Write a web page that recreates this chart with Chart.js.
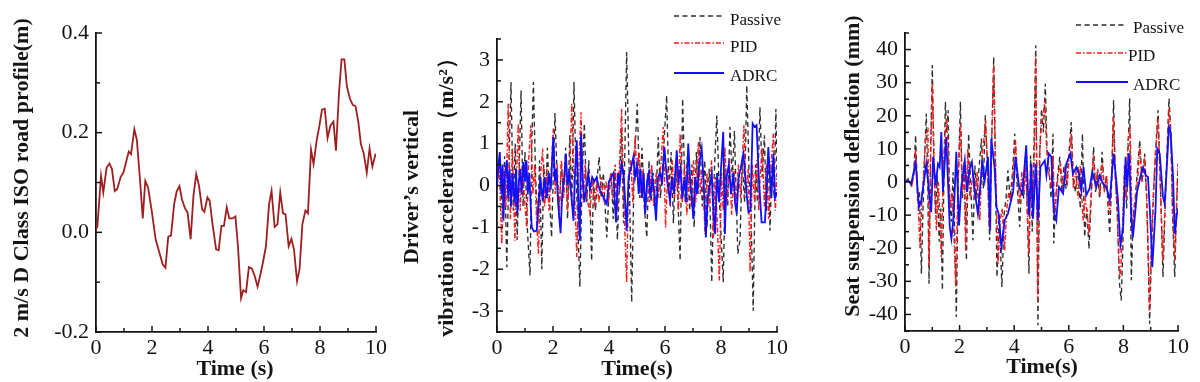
<!DOCTYPE html>
<html><head><meta charset="utf-8">
<script src="https://cdn.jsdelivr.net/npm/chart.js@4.4.0/dist/chart.umd.min.js"></script>
<style>
html,body{margin:0;padding:0;background:#fff;}
#wrap{position:relative;width:1200px;height:382px;overflow:hidden;background:#fff;}
canvas{position:absolute;top:0;}
</style></head><body>
<div id="wrap">
<canvas id="c1" width="400" height="382" style="left:0px"></canvas>
<canvas id="c2" width="400" height="382" style="left:400px"></canvas>
<canvas id="c3" width="400" height="382" style="left:800px"></canvas>
</div>
<script>
// ---------- tick labels ----------
const timeTicks = [0, 2, 4, 6, 8, 10];
const roadTicks = [-0.2, 0.0, 0.2, 0.4];
const accelTicks = [-3, -2, -1, 0, 1, 2, 3];
const seatTicks = [-40, -30, -20, -10, 0, 10, 20, 30, 40];

// ---------- series names ----------
const seriesNames = ['Passive', 'PID', 'ADRC'];

// ---------- panel 1: road profile [time, value] ----------
const roadProfile = [[0,0.006],[0.05,0.012],[0.18,0.113],[0.26,0.08],[0.38,0.13],[0.48,0.138],[0.57,0.127],[0.67,0.083],[0.76,0.087],[0.88,0.111],[0.98,0.12],[1.07,0.14],[1.17,0.162],[1.25,0.157],[1.37,0.207],[1.46,0.185],[1.57,0.107],[1.67,0.028],[1.76,0.103],[1.86,0.09],[1.99,0.043],[2.13,-0.014],[2.25,-0.038],[2.38,-0.064],[2.48,-0.071],[2.58,-0.009],[2.68,-0.006],[2.79,0.056],[2.88,0.082],[2.98,0.093],[3.07,0.066],[3.18,0.048],[3.27,0.04],[3.38,-0.014],[3.48,0.073],[3.58,0.117],[3.68,0.093],[3.79,0.046],[3.87,0.041],[3.98,0.07],[4.06,0.063],[4.17,0.013],[4.29,-0.034],[4.38,-0.036],[4.48,0.013],[4.57,0.013],[4.67,0.05],[4.76,0.028],[4.88,0.028],[4.98,0.032],[5.07,-0.028],[5.18,-0.132],[5.26,-0.116],[5.36,-0.12],[5.46,-0.07],[5.57,-0.073],[5.67,-0.088],[5.77,-0.109],[5.87,-0.085],[5.96,-0.061],[6.07,-0.028],[6.18,0.056],[6.27,0.083],[6.38,0.011],[6.48,0.016],[6.58,0.08],[6.68,0.038],[6.77,0.036],[6.88,-0.028],[6.98,-0.013],[7.07,-0.034],[7.18,-0.098],[7.27,-0.074],[7.37,0.016],[7.48,0.044],[7.57,0.038],[7.68,0.166],[7.77,0.137],[7.88,0.184],[7.98,0.214],[8.07,0.246],[8.17,0.248],[8.27,0.189],[8.37,0.214],[8.48,0.222],[8.57,0.164],[8.68,0.281],[8.77,0.347],[8.87,0.347],[8.96,0.293],[9.07,0.268],[9.17,0.256],[9.27,0.253],[9.37,0.221],[9.46,0.177],[9.56,0.159],[9.67,0.12],[9.77,0.168],[9.87,0.132],[9.99,0.158]];

// ---------- panel 2: driver's vertical acceleration [time, m/s^2] ----------
const accelPassive = [[0,0],[0.1,0.6],[0.2,-0.8],[0.27,0.7],[0.35,-1.95],[0.42,0.3],[0.5,2.47],[0.58,-0.6],[0.65,1.0],[0.72,-1.3],[0.79,0.4],[0.86,2.27],[0.93,-0.5],[1.0,0.8],[1.08,-1.0],[1.18,-2.15],[1.24,0.9],[1.3,2.47],[1.38,0.2],[1.45,-0.9],[1.52,0.6],[1.6,-2.0],[1.67,0.5],[1.74,-0.3],[1.8,0.9],[1.88,-0.4],[1.95,-1.24],[2.07,1.73],[2.15,0.2],[2.22,-0.6],[2.3,0.5],[2.38,-0.2],[2.45,0.9],[2.52,-0.8],[2.6,1.2],[2.67,-0.5],[2.75,2.47],[2.82,0.3],[2.89,-1.0],[2.96,-2.42],[3.04,0.2],[3.12,1.48],[3.2,-0.4],[3.28,0.6],[3.38,-1.8],[3.45,0.1],[3.52,-0.6],[3.58,0.2],[3.65,0.68],[3.72,-0.3],[3.8,0.3],[3.92,-1.24],[4.0,-0.2],[4.08,0.3],[4.15,-0.8],[4.22,0.4],[4.3,-1.3],[4.38,0.2],[4.45,1.3],[4.52,-0.9],[4.63,3.19],[4.72,0.3],[4.81,-2.79],[4.9,0.5],[5.01,1.95],[5.1,-0.3],[5.18,0.9],[5.26,-0.5],[5.35,-1.24],[5.43,0.6],[5.5,-0.4],[5.58,0.3],[5.66,-0.7],[5.76,1.16],[5.84,-0.3],[5.92,0.5],[6.06,2.15],[6.14,-0.2],[6.22,0.8],[6.3,-0.9],[6.38,0.6],[6.46,-0.3],[6.54,-1.8],[6.63,2.07],[6.72,-0.4],[6.8,0.7],[6.88,-0.6],[6.96,0.5],[7.04,-1.0],[7.12,0.8],[7.18,-0.2],[7.25,1.16],[7.33,-0.5],[7.42,0.6],[7.5,-1.0],[7.58,0.4],[7.67,-2.31],[7.76,0.3],[7.85,1.67],[7.96,-0.6],[8.08,-2.31],[8.16,0.4],[8.24,-0.5],[8.32,1.4],[8.4,0.2],[8.48,1.3],[8.6,-1.63],[8.68,-1.3],[8.76,0.6],[8.84,-0.4],[8.92,2.39],[9.0,0.4],[9.08,-0.9],[9.15,-2.99],[9.23,0.5],[9.3,-0.4],[9.39,1.87],[9.47,0.2],[9.55,1.2],[9.62,-0.6],[9.69,0.7],[9.75,-1.08],[9.82,0.5],[9.9,-0.3],[9.96,1.83],[10.0,0.2]];
const accelPID = [[0,0],[0.08,0.5],[0.17,-1.4],[0.25,0.4],[0.32,-0.5],[0.4,1.95],[0.48,-0.8],[0.55,0.9],[0.64,-1.32],[0.7,0.3],[0.76,1.48],[0.83,-0.6],[0.9,0.5],[0.98,-0.3],[1.06,-1.0],[1.13,0.6],[1.21,1.44],[1.28,-0.2],[1.35,0.5],[1.41,-0.8],[1.48,-1.63],[1.55,0.2],[1.63,0.88],[1.7,-0.5],[1.78,0.4],[1.86,-0.6],[1.93,0.3],[2.01,1.36],[2.08,-0.2],[2.15,0.5],[2.22,-0.8],[2.3,0.6],[2.38,-0.3],[2.45,0.7],[2.52,-0.6],[2.6,0.4],[2.67,1.95],[2.75,0.2],[2.85,-1.71],[2.92,0.4],[3.0,1.75],[3.08,-0.4],[3.15,0.5],[3.22,-0.3],[3.32,-0.68],[3.4,0.2],[3.48,-0.5],[3.56,0.1],[3.64,-0.4],[3.72,0.2],[3.8,-0.3],[3.9,0.1],[3.98,-0.4],[4.06,0.3],[4.14,-0.3],[4.22,0.5],[4.3,-0.6],[4.38,0.6],[4.45,1.83],[4.52,-0.2],[4.63,-2.31],[4.7,0.2],[4.78,0.6],[4.85,-0.4],[4.93,1.16],[5.0,0.2],[5.08,0.8],[5.15,-0.3],[5.22,0.4],[5.3,-0.7],[5.38,0.3],[5.45,-0.4],[5.52,0.5],[5.6,-0.5],[5.68,0.3],[5.76,-0.3],[5.85,0.5],[5.94,1.4],[6.02,-1.0],[6.1,0.4],[6.18,-0.5],[6.26,0.6],[6.34,-0.3],[6.42,0.5],[6.48,-0.6],[6.54,1.24],[6.62,-0.4],[6.7,0.5],[6.78,-0.7],[6.86,0.3],[6.94,-0.5],[7.02,0.6],[7.1,-0.4],[7.19,1.04],[7.26,-0.2],[7.34,0.4],[7.43,-1.16],[7.5,0.3],[7.58,-0.5],[7.66,0.6],[7.73,-1.24],[7.8,0.2],[7.86,-0.8],[7.94,-2.27],[8.02,0.3],[8.08,-0.6],[8.14,0.92],[8.22,-0.4],[8.3,0.6],[8.38,-0.7],[8.46,0.4],[8.54,-0.6],[8.62,0.5],[8.7,-0.3],[8.76,0.6],[8.82,1.44],[8.9,-0.3],[8.97,0.4],[9.04,-2.07],[9.12,0.5],[9.2,-0.4],[9.28,0.6],[9.35,-0.6],[9.39,0.12],[9.47,0.9],[9.55,-0.5],[9.62,0.5],[9.7,-0.8],[9.78,0.4],[9.87,1.24],[9.94,-0.6],[10,0.3]];
const accelADRC = [[0,0],[0.05,0.5],[0.1,0.8],[0.16,-0.2],[0.2,0.5],[0.23,-0.84],[0.28,0.2],[0.35,0.6],[0.4,-0.3],[0.45,0.4],[0.5,-0.5],[0.55,0.3],[0.6,-0.2],[0.64,-0.36],[0.68,0.4],[0.73,-0.68],[0.78,0.1],[0.83,0.4],[0.88,-0.2],[0.94,0.56],[1.0,0.1],[1.05,0.6],[1.1,-0.2],[1.15,0.3],[1.24,-1.0],[1.32,-1.1],[1.42,-1.08],[1.48,-0.5],[1.55,0.2],[1.63,-0.36],[1.7,0.2],[1.78,-0.3],[1.85,0.3],[1.92,-0.1],[2.01,1.16],[2.07,0.1],[2.12,0.4],[2.18,-0.4],[2.27,-1.14],[2.33,-0.2],[2.4,0.2],[2.46,0.76],[2.52,0.0],[2.58,0.3],[2.65,-0.2],[2.73,-0.84],[2.78,0.2],[2.85,1.08],[2.9,-0.3],[2.96,-1.32],[3.0,1.24],[3.06,0.2],[3.12,-0.4],[3.2,0.0],[3.26,0.3],[3.32,-0.1],[3.4,0.2],[3.48,0.1],[3.56,0.2],[3.62,0.0],[3.68,-0.12],[3.75,-0.2],[3.82,-0.3],[3.92,-0.44],[4.0,0.1],[4.08,0.2],[4.16,0.3],[4.2,-0.3],[4.25,-0.88],[4.32,0.3],[4.38,0.0],[4.45,0.52],[4.52,0.3],[4.58,-0.4],[4.63,-1.08],[4.7,0.2],[4.78,0.4],[4.87,0.68],[4.93,0.2],[5.0,0.5],[5.06,-0.2],[5.12,0.4],[5.18,-0.3],[5.24,0.3],[5.29,-0.68],[5.36,0.1],[5.42,0.3],[5.48,-0.3],[5.55,0.2],[5.62,-0.2],[5.68,-0.84],[5.75,0.2],[5.82,0.3],[5.9,0.1],[5.98,0.92],[6.05,0.3],[6.12,-0.1],[6.18,-0.36],[6.25,0.2],[6.32,-0.2],[6.42,0.84],[6.48,0.1],[6.55,0.4],[6.62,-0.3],[6.7,0.2],[6.76,-0.4],[6.83,1.0],[6.9,0.1],[6.96,-0.3],[7.01,-0.8],[7.08,0.2],[7.15,-0.2],[7.22,0.5],[7.31,0.88],[7.38,0.1],[7.46,-1.24],[7.52,-0.3],[7.6,0.0],[7.67,0.28],[7.72,-0.5],[7.79,-1.16],[7.86,0.3],[7.93,-0.4],[8.0,0.4],[8.08,1.28],[8.14,-1.16],[8.2,0.2],[8.28,0.5],[8.36,-0.2],[8.44,0.3],[8.5,-0.4],[8.56,-0.68],[8.63,0.2],[8.7,0.4],[8.8,0.76],[8.88,0.1],[8.93,-0.3],[8.98,-0.64],[9.05,-0.6],[9.13,1.48],[9.2,1.4],[9.27,1.44],[9.35,0.2],[9.45,-0.88],[9.57,-0.88],[9.62,-0.2],[9.69,0.92],[9.75,0.2],[9.8,-0.3],[9.87,0.76],[9.93,-0.3],[10,-0.16]];

// ---------- panel 3: seat suspension deflection [time, mm] ----------
const seatPassive = [[0,0],[0.12,1],[0.25,-1.5],[0.32,3],[0.39,14.1],[0.46,-5],[0.53,-3],[0.6,-27.7],[0.67,-5],[0.72,8],[0.78,20.7],[0.83,2],[0.88,-30.7],[0.94,10],[1.0,35.3],[1.06,5],[1.12,-10],[1.18,2],[1.25,-18],[1.31,-8],[1.37,-32.7],[1.43,5],[1.48,24.2],[1.53,15],[1.58,21.7],[1.63,-5],[1.7,-12],[1.76,3],[1.82,-15],[1.88,-40.8],[1.95,0],[2.03,24.2],[2.1,-5],[2.17,6],[2.25,-23.7],[2.33,14.6],[2.4,0],[2.49,-17.6],[2.56,5],[2.63,-5],[2.7,3],[2.8,13.1],[2.87,-2],[2.94,20.2],[3.02,5],[3.1,-17.6],[3.17,10],[3.25,37.8],[3.31,5],[3.37,-28.7],[3.45,-10],[3.55,-31.7],[3.63,-10],[3.7,-5],[3.77,3.5],[3.85,-5],[3.93,2],[4.02,14.6],[4.1,0],[4.2,-13.6],[4.28,0],[4.35,-5],[4.42,8],[4.48,-10],[4.54,-27.7],[4.6,8],[4.66,-15],[4.72,10],[4.79,41.3],[4.87,-43.3],[4.94,10],[5.0,22],[5.07,15],[5.14,29.7],[5.2,10],[5.27,5],[5.35,-5],[5.42,14.6],[5.45,-18.6],[5.52,-5],[5.6,3],[5.67,7.6],[5.74,-3],[5.82,5],[5.9,-2],[6.0,8],[6.09,18.1],[6.17,0],[6.25,-3],[6.33,5],[6.42,-8],[6.5,14.6],[6.58,-16.6],[6.66,-8],[6.74,-20.2],[6.82,-5],[6.91,10.6],[6.98,-3],[7.05,3],[7.13,-5],[7.22,9.1],[7.3,-3],[7.38,2],[7.44,-8],[7.5,-15.6],[7.57,0],[7.64,24.7],[7.7,3],[7.78,-10],[7.85,-30],[7.92,-35.8],[7.98,-20],[8.05,5],[8.12,-8],[8.18,12],[8.23,25.2],[8.29,-29.7],[8.36,-10],[8.43,-5],[8.5,2],[8.6,12.6],[8.68,0],[8.78,8.6],[8.85,-5],[8.9,-20],[8.96,-42.8],[9.03,-20],[9.1,-5],[9.17,8],[9.27,21.7],[9.35,0],[9.45,-28.7],[9.52,-10],[9.6,10],[9.67,25.2],[9.74,15],[9.8,-10],[9.88,-28.7],[9.94,-10],[10,5.5]];
const seatPID = [[0,0],[0.12,0.8],[0.25,-1],[0.32,2],[0.39,10],[0.46,-3],[0.55,-20],[0.62,-5],[0.7,5],[0.76,14],[0.84,15.6],[0.88,-25.2],[0.94,8],[1.0,29.7],[1.06,8],[1.15,-14.6],[1.22,0],[1.28,-10],[1.33,-22.7],[1.4,3],[1.47,15],[1.54,19.1],[1.6,5],[1.66,-8],[1.72,-3],[1.79,-15],[1.86,-31.7],[1.94,0],[2.03,17.6],[2.1,-3],[2.16,5],[2.22,-20.7],[2.3,10],[2.38,-5],[2.49,2.5],[2.56,-5],[2.64,3],[2.74,-11.6],[2.82,8],[2.88,12],[2.95,18.6],[3.02,5],[3.08,-13.6],[3.16,8],[3.25,35.3],[3.33,0],[3.41,-24.7],[3.48,-12],[3.56,-8],[3.65,-20.7],[3.73,-8],[3.8,-3],[3.88,-6],[3.96,3],[4.05,12.6],[4.12,2],[4.2,-6.5],[4.28,3],[4.35,-3],[4.42,5],[4.48,-8],[4.54,-21.7],[4.6,5],[4.67,-10],[4.73,5],[4.79,38.3],[4.86,-35.8],[4.93,8],[5.0,18],[5.06,20],[5.12,24.7],[5.19,10],[5.26,3],[5.36,-1.5],[5.42,8],[5.48,-9.6],[5.55,-3],[5.62,3],[5.7,5],[5.78,-3],[5.86,4],[5.95,0],[6.02,8],[6.09,14.6],[6.17,-2],[6.26,3],[6.34,-5],[6.42,5],[6.52,-11.6],[6.6,-5],[6.68,-10],[6.74,-15.6],[6.82,-3],[6.9,8],[6.98,-2],[7.06,4],[7.14,-4],[7.22,6],[7.3,-2],[7.38,2],[7.44,-5],[7.5,-9.6],[7.57,3],[7.64,19.6],[7.7,2],[7.78,-10],[7.84,-25],[7.89,-28.7],[7.96,-15],[8.04,5],[8.1,-5],[8.17,12.6],[8.25,16.6],[8.32,-15.6],[8.4,-8],[8.48,-3],[8.54,3],[8.6,10.6],[8.68,0],[8.78,6],[8.85,-3],[8.9,-18],[8.96,-38.8],[9.03,-18],[9.1,-3],[9.17,8],[9.27,19.1],[9.35,0],[9.45,-23.7],[9.52,-8],[9.6,8],[9.67,22.2],[9.74,12],[9.8,-8],[9.88,-23.7],[9.94,-8],[10,5]];
const seatADRC = [[0,0],[0.11,0.5],[0.23,-0.5],[0.39,5.8],[0.51,-7.6],[0.6,-5.5],[0.78,5.5],[0.96,-9.1],[1.03,7.6],[1.12,-1],[1.21,5.5],[1.27,4.5],[1.33,15.1],[1.39,-3],[1.51,13.6],[1.64,-13.6],[1.7,-17.1],[1.78,-10.6],[1.88,9.1],[1.98,-13.1],[2.06,-1.5],[2.19,6.5],[2.27,-3],[2.37,4],[2.45,6],[2.55,-2.5],[2.67,-9.6],[2.76,-1],[2.83,6.5],[2.92,0.5],[3.04,7.6],[3.12,-14.6],[3.16,13.1],[3.28,4.5],[3.35,-7.6],[3.43,-9.6],[3.53,-19.6],[3.65,-11.6],[3.77,-9.6],[3.96,-3],[4.05,7.6],[4.18,-1.5],[4.3,-3.5],[4.44,11.1],[4.54,-10.1],[4.63,5.5],[4.69,-11.1],[4.79,5.5],[4.87,-11.6],[4.96,4.5],[5.12,6.5],[5.18,2],[5.27,8.6],[5.36,7.6],[5.45,-9.1],[5.54,-11.6],[5.64,-1.5],[5.79,-3.5],[5.91,5.5],[6.06,8.6],[6.15,2.5],[6.28,4.5],[6.37,2.5],[6.46,-2.5],[6.54,4.5],[6.64,-4],[6.76,-2],[6.86,3],[7.01,-1.5],[7.13,2],[7.25,-0.5],[7.37,-1.5],[7.5,-5.5],[7.64,8.6],[7.74,0.5],[7.8,-5.5],[7.89,-19.1],[7.99,-13.6],[8.08,7.6],[8.14,-1.5],[8.21,8.6],[8.29,-11.1],[8.35,-16.6],[8.5,-3],[8.62,1.5],[8.72,4.5],[8.82,2],[8.9,1.5],[8.99,-11.6],[9.06,-25.7],[9.18,-7.6],[9.24,10.1],[9.33,8.6],[9.45,-4.5],[9.51,-6.5],[9.57,1.5],[9.67,16.6],[9.73,15.1],[9.82,1.5],[9.88,-15.6],[9.96,-9.6],[10,-8]];

// ---------- styling ----------
const FONT = "'Liberation Serif','Times New Roman',serif";
const INK = '#141414';
const styles = {
  Passive: { color: '#2e2e2e', dash: [5, 3.5], width: 1.35 },
  PID: { color: '#ff1a1a', dash: [5, 2, 1.5, 2], width: 1.45 },
  ADRC: { color: '#1010ff', dash: [], width: 1.8 }
};

function pts(arr) { return arr.map(p => ({ x: p[0], y: p[1] })); }
function seriesDataset(name, arr, order) {
  const s = styles[name];
  return { label: name, data: pts(arr), borderColor: s.color, borderDash: s.dash,
    borderWidth: s.width, pointRadius: 0, tension: 0, fill: false, order: order };
}

function makeDeco(cfg) {
  return {
    id: 'deco',
    afterDraw(chart) {
      const ctx = chart.ctx, xs = chart.scales.x, ys = chart.scales.y, a = chart.chartArea;
      ctx.save();
      ctx.strokeStyle = INK; ctx.lineWidth = 1.5;
      // inward x ticks
      for (let k = 0; ; k++) {
        const v = xs.min + k * cfg.minorX;
        if (v > xs.max + 1e-9) break;
        const major = cfg.xMajor.some(t => Math.abs(t - v) < 1e-9);
        const px = xs.getPixelForValue(v);
        ctx.beginPath(); ctx.moveTo(px, a.bottom); ctx.lineTo(px, a.bottom - (major ? 6 : 4)); ctx.stroke();
      }
      // inward y ticks
      const start = Math.ceil(ys.min / cfg.minorY - 1e-9);
      for (let k = start; ; k++) {
        const v = k * cfg.minorY;
        if (v > ys.max + 1e-9) break;
        const major = cfg.yMajor.some(t => Math.abs(t - v) < 1e-9);
        const py = ys.getPixelForValue(v);
        ctx.beginPath(); ctx.moveTo(a.left, py); ctx.lineTo(a.left + (major ? 6 : 4), py); ctx.stroke();
      }
      // axis titles
      ctx.fillStyle = INK;
      ctx.textAlign = 'center'; ctx.textBaseline = 'middle';
      ctx.font = 'bold 22px ' + FONT;
      cfg.titles.forEach(t => {
        ctx.save();
        ctx.translate(t.x, t.y);
        if (t.rot) ctx.rotate(-Math.PI / 2);
        ctx.fillText(t.text, 0, 0);
        ctx.restore();
      });
      // legend
      if (cfg.legend) {
        const L = cfg.legend;
        ctx.font = '17px ' + FONT;
        ctx.textAlign = 'left';
        L.rows.forEach(r => {
          const s = styles[r.name];
          ctx.save();
          ctx.strokeStyle = s.color; ctx.lineWidth = s.width; ctx.setLineDash(s.dash);
          ctx.beginPath(); ctx.moveTo(L.x1, r.ly); ctx.lineTo(r.x2 || L.x2, r.ly); ctx.stroke();
          ctx.restore();
          ctx.fillStyle = INK;
          ctx.fillText(r.name, r.tx || L.tx, r.ty);
        });
      }
      ctx.restore();
    }
  };
}

function makeChart(id, datasets, ycfg, deco, pad, yWidth) {
  const setTicks = list => s => { s.ticks = list.map(v => ({ value: v })); };
  return new Chart(document.getElementById(id), {
    type: 'line',
    data: { datasets: datasets },
    options: {
      responsive: false, animation: false, devicePixelRatio: 1,
      layout: { padding: { left: pad.left, right: pad.right, top: pad.top, bottom: 0 } },
      plugins: { legend: { display: false }, tooltip: { enabled: false } },
      scales: {
        x: {
          type: 'linear', min: 0, max: 10,
          afterBuildTicks: setTicks(timeTicks),
          afterFit: s => { s.height = 382 - pad.top - pad.plotH; },
          grid: { display: false, drawTicks: false },
          border: { display: true, color: INK, width: 1.8 },
          ticks: { padding: 3, color: INK, font: { family: FONT, size: 22 }, maxRotation: 0,
            callback: v => String(v) }
        },
        y: {
          type: 'linear', min: ycfg.min, max: ycfg.max,
          afterBuildTicks: setTicks(ycfg.ticks),
          afterFit: s => { s.width = yWidth; },
          grid: { display: false, drawTicks: false },
          border: { display: true, color: INK, width: 1.8 },
          ticks: { padding: 7, color: INK, font: { family: FONT, size: 22 }, callback: ycfg.fmt }
        }
      }
    },
    plugins: [makeDeco(deco)]
  });
}

// Panel 1
makeChart('c1',
  [{ label: 'Road', data: pts(roadProfile), borderColor: '#9e1f1f', borderWidth: 1.8, pointRadius: 0, tension: 0, fill: false }],
  { min: -0.2, max: 0.4, ticks: roadTicks, fmt: v => (Math.abs(v) < 1e-9 ? '0.0' : v.toFixed(1)) },
  { minorX: 1, minorY: 0.1, xMajor: timeTicks, yMajor: roadTicks,
    titles: [ { text: '2 m/s D Class ISO road profile(m)', x: 22, y: 178, rot: true },
              { text: 'Time (s)', x: 235, y: 369, rot: false } ] },
  { left: 0, right: 24, top: 33, plotH: 299 }, 96);

// Panel 2
makeChart('c2',
  [seriesDataset('ADRC', accelADRC, 1), seriesDataset('PID', accelPID, 2), seriesDataset('Passive', accelPassive, 3)],
  { min: -3.5, max: 3.5, ticks: accelTicks, fmt: v => String(Math.round(v)) },
  { minorX: 1, minorY: 0.5, xMajor: timeTicks, yMajor: accelTicks,
    titles: [ { text: 'Driver\u2019s vertical', x: 12, y: 187, rot: true },
              { text: 'vibration acceleration\uff08m/s\u00b2\uff09', x: 47, y: 192, rot: true },
              { text: 'Time(s)', x: 237, y: 369, rot: false } ],
    legend: { x1: 274, x2: 324, tx: 330,
      rows: [ { name: 'Passive', ly: 16, ty: 21 }, { name: 'PID', ly: 43, ty: 48 }, { name: 'ADRC', ly: 73, ty: 77 } ] } },
  { left: 0, right: 23, top: 39, plotH: 293 }, 97);

// Panel 3
makeChart('c3',
  [seriesDataset('ADRC', seatADRC, 1), seriesDataset('PID', seatPID, 2), seriesDataset('Passive', seatPassive, 3)],
  { min: -45, max: 45, ticks: seatTicks, fmt: v => String(Math.round(v)) },
  { minorX: 1, minorY: 5, xMajor: timeTicks, yMajor: seatTicks,
    titles: [ { text: 'Seat suspension deflection (mm)', x: 53, y: 166, rot: true },
              { text: 'Time(s)', x: 242, y: 367, rot: false } ],
    legend: { x1: 276, x2: 326, tx: 333,
      rows: [ { name: 'Passive', ly: 25, ty: 29, x2: 325 }, { name: 'PID', ly: 53, ty: 57, x2: 328, tx: 328 }, { name: 'ADRC', ly: 82, ty: 86, x2: 328 } ] } },
  { left: 0, right: 22, top: 33, plotH: 298 }, 105);
</script>
</body></html>
